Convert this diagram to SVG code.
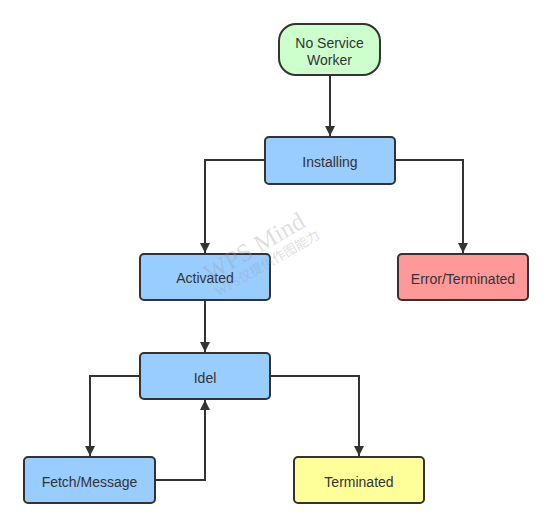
<svg xmlns="http://www.w3.org/2000/svg" width="553" height="528" viewBox="0 0 553 528">
  <style>
    .node rect { stroke: #333333; stroke-width: 2; }
    .label { font-family: "Liberation Sans", Arial, sans-serif; font-size: 14px; fill: #333333; text-anchor: middle; dominant-baseline: central; }
    .edge { fill: none; stroke: #333333; stroke-width: 2; marker-end: url(#arrow); }
    .wm { font-family: "Liberation Serif", "Noto Sans CJK SC", serif; fill: #a0a0a0; fill-opacity: 0.35; }
  </style>
  <defs>
    <marker id="arrow" viewBox="0 0 10 10" refX="10" refY="5" markerWidth="10" markerHeight="10" markerUnits="userSpaceOnUse" orient="auto">
      <path d="M0,0 L10,5 L0,10 Z" fill="#333333"/>
    </marker>
  </defs>
  <rect width="553" height="528" fill="#ffffff"/>

  <g id="connectors">
    <path class="edge" d="M330,75 L330,136"/>
    <path class="edge" d="M265,160 L205,160 L205,253"/>
    <path class="edge" d="M395,160 L463,160 L463,253"/>
    <path class="edge" d="M205,300 L205,352"/>
    <path class="edge" d="M140,376 L90,376 L90,456"/>
    <path class="edge" d="M155,480 L205,480 L205,400"/>
    <path class="edge" d="M270,376 L359,376 L359,456"/>
  </g>

  <g id="no-service-worker" class="node">
    <rect x="279" y="24" width="101" height="51" rx="17" fill="#ccffcc"/>
    <text class="label" x="329.5" y="43">No Service</text>
    <text class="label" x="329.5" y="60">Worker</text>
  </g>
  <g id="installing" class="node">
    <rect x="265" y="137" width="130" height="47" rx="4" fill="#99ccff"/>
    <text class="label" x="330" y="161.5">Installing</text>
  </g>
  <g id="activated" class="node">
    <rect x="140" y="254" width="130" height="46" rx="4" fill="#99ccff"/>
    <text class="label" x="205" y="278">Activated</text>
  </g>
  <g id="error-terminated" class="node">
    <rect x="398" y="254" width="130" height="46" rx="4" fill="#ff9999"/>
    <text class="label" x="463" y="278.5">Error/Terminated</text>
  </g>
  <g id="idel" class="node">
    <rect x="140" y="353" width="130" height="46" rx="4" fill="#99ccff"/>
    <text class="label" x="205" y="377.5">Idel</text>
  </g>
  <g id="fetch-message" class="node">
    <rect x="24" y="457" width="131" height="46" rx="4" fill="#99ccff"/>
    <text class="label" x="89.5" y="482">Fetch/Message</text>
  </g>
  <g id="terminated" class="node">
    <rect x="294" y="457" width="130" height="46" rx="4" fill="#ffff99"/>
    <text class="label" x="359" y="482">Terminated</text>
  </g>

  <!-- watermark, drawn over the nodes -->
  <g transform="translate(210,282) rotate(-30)">
    <text class="wm" x="0" y="0" font-size="25">WPS Mind</text>
    <text class="wm" x="0" y="17" font-size="13">WPS仅提供作图能力</text>
  </g>
</svg>
